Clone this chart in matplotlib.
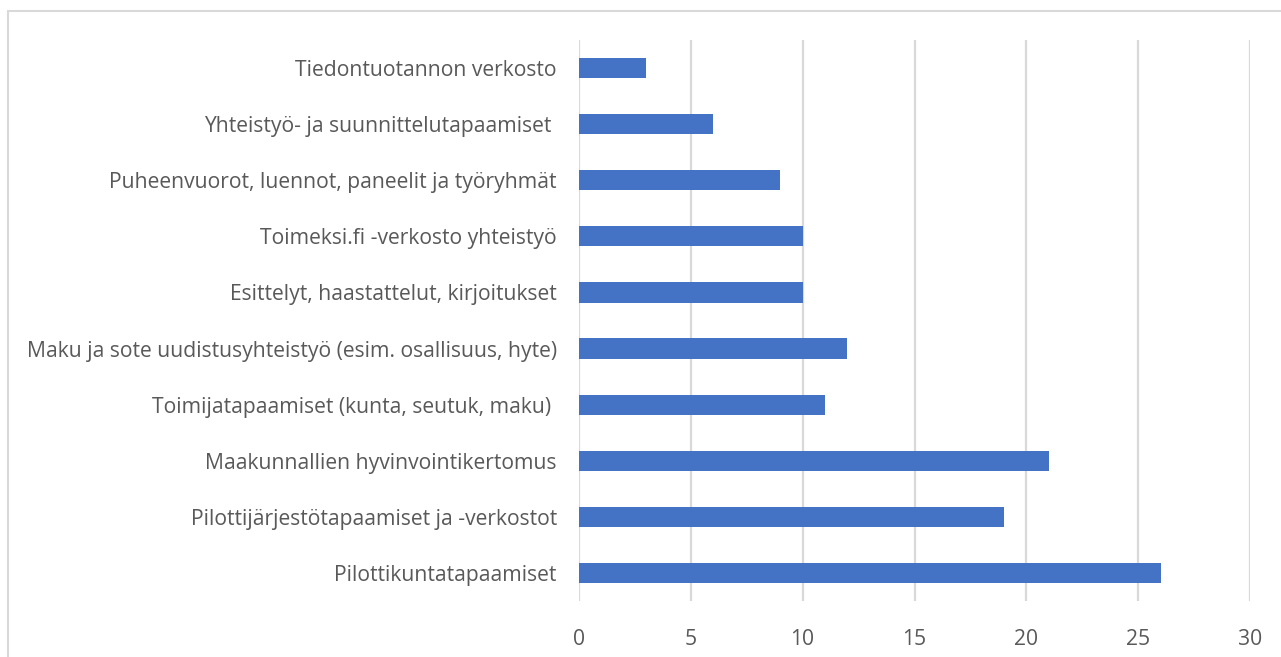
import matplotlib.pyplot as plt
import matplotlib.patches as mpatches

# data, top to bottom as in the chart
labels = ['Tiedontuotannon verkosto',
          'Yhteistyö- ja suunnittelutapaamiset ',
          'Puheenvuorot, luennot, paneelit ja työryhmät',
          'Toimeksi.fi -verkosto yhteistyö',
          'Esittelyt, haastattelut, kirjoitukset',
          'Maku ja sote uudistusyhteistyö (esim. osallisuus, hyte)',
          'Toimijatapaamiset (kunta, seutuk, maku) ',
          'Maakunnallien hyvinvointikertomus',
          'Pilottijärjestötapaamiset ja -verkostot',
          'Pilottikuntatapaamiset']
values = [3, 6, 9, 10, 10, 12, 11, 21, 19, 26]
xticks = [0, 5, 10, 15, 20, 25, 30]

W, H = 1281, 657
fig = plt.figure(figsize=(W / 100, H / 100), dpi=100)
plt.rcParams['font.family'] = ['Open Sans', 'DejaVu Sans']

# light frame round the chart (bottom and right run off the picture)
fig.patches.append(mpatches.Rectangle((8 / W, -0.1), 1.2, 1 - 11 / H + 0.1,
                                      transform=fig.transFigure, fill=False,
                                      edgecolor='#d9d9d9', linewidth=1.5))

ax = fig.add_axes([579 / W, 1 - 601 / H, (1250 - 579) / W, (601 - 40) / H])
pos = list(range(len(labels)))[::-1]
ax.barh(pos, values, height=0.36, color='#4472c4', zorder=3)
ax.set_xlim(0, 30)
ax.set_ylim(-0.5, len(labels) - 0.5)
ax.set_xticks(xticks)
ax.set_yticks(pos)
ax.set_yticklabels(labels)
ax.xaxis.grid(True, color='#d9d9d9', linewidth=1.6, zorder=0)
for s in ax.spines.values():
    s.set_visible(False)
ax.tick_params(axis='both', length=0, colors='#595959', labelsize=15.2)
ax.tick_params(axis='y', pad=16)
ax.tick_params(axis='x', pad=20)

plt.savefig('out.png', dpi=100)
